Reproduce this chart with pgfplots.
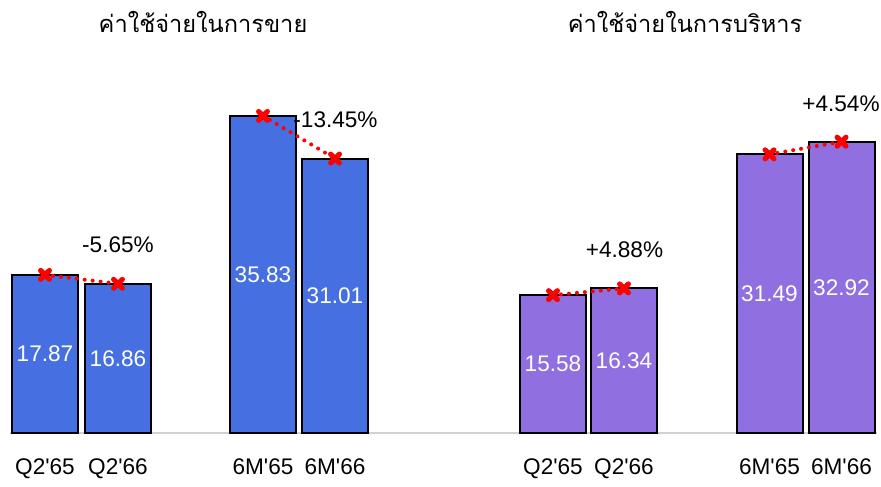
\documentclass[border=0pt]{standalone}
\usepackage{fontspec}
\setmainfont{Liberation Sans}
\newfontfamily\thaifont[Script=Thai]{Loma}
\usepackage{pgfplots}
\usepackage{pgfplotstable}
\pgfplotsset{compat=1.18}
\usetikzlibrary{calc}
\definecolor{barblue}{RGB}{70,112,226}
\definecolor{barpurple}{RGB}{144,112,224}

\pgfplotstableread{
x y lab
45 17.87 17.87
118 16.86 16.86
263 35.83 35.83
335 31.01 31.01
}\salesdata
\pgfplotstableread{
x y lab
553 15.58 15.58
624 16.34 16.34
769.5 31.49 31.49
841.5 32.92 32.92
}\admindata

\begin{document}
\begin{tikzpicture}
\begin{axis}[
 scale only axis, width=433.5pt, height=216.5pt,
 xmin=10, xmax=877, ymin=0, ymax=48.93,
 axis x line*=bottom, axis y line=none,
 x axis line style={draw=black!18, line width=1pt, -},
 xtick={45,118,263,335,553,624,769.5,841.5},
 xticklabels={Q2\textquotesingle65,Q2\textquotesingle66,6M\textquotesingle65,6M\textquotesingle66,Q2\textquotesingle65,Q2\textquotesingle66,6M\textquotesingle65,6M\textquotesingle66},
 major tick length=0pt,
 xticklabel style={font=\fontsize{11.3}{13}\selectfont, yshift=-9.5pt},
 clip=false,
]
\addplot[ybar, bar width=33pt, bar shift=0pt, fill=barblue, draw=black, line width=1pt] table[x=x,y=y]{\salesdata};
\addplot[ybar, bar width=33pt, bar shift=0pt, fill=barpurple, draw=black, line width=1pt] table[x=x,y=y]{\admindata};

\addplot[only marks, mark=none, point meta=explicit symbolic, nodes near coords,
  nodes near coords style={anchor=center, text=white, font=\fontsize{11.3}{13}\selectfont}]
  table[x=x, y expr=\thisrow{y}/2, meta=lab]{\salesdata};
\addplot[only marks, mark=none, point meta=explicit symbolic, nodes near coords,
  nodes near coords style={anchor=center, text=white, font=\fontsize{11.3}{13}\selectfont}]
  table[x=x, y expr=\thisrow{y}/2, meta=lab]{\admindata};

\pgfplotsset{redline/.style={red, line width=2pt, dash pattern=on 0pt off 4pt, line cap=round,
  mark=x, mark size=3.1pt, mark options={solid, line width=2.6pt}}}
\addplot[redline] coordinates {(45,17.87) (118,16.86)};
\addplot[redline] coordinates {(263,35.83) (335,31.01)};
\addplot[redline] coordinates {(553,15.58) (624,16.34)};
\addplot[redline] coordinates {(769.5,31.49) (841.5,32.92)};

\node[font=\fontsize{11.3}{13}\selectfont] at (axis cs:118,21.24) {-5.65\%};
\node[font=\fontsize{11.3}{13}\selectfont] at (axis cs:335.5,35.42) {-13.45\%};
\node[font=\fontsize{11.3}{13}\selectfont] at (axis cs:624.5,20.73) {+4.88\%};
\node[font=\fontsize{11.3}{13}\selectfont] at (axis cs:841,37.23) {+4.54\%};

\node[anchor=base, font=\thaifont\fontsize{11.8}{14}\selectfont] at (axis cs:203,45.2) {ค่าใช้จ่ายในการขาย};
\node[anchor=base, font=\thaifont\fontsize{11.8}{14}\selectfont] at (axis cs:685,45.2) {ค่าใช้จ่ายในการบริหาร};
\end{axis}
\pgfresetboundingbox
\path ($(current axis.south west)+(-5pt,-26.5pt)$) rectangle ($(current axis.north east)+(2pt,0pt)$);
\end{tikzpicture}
\end{document}
